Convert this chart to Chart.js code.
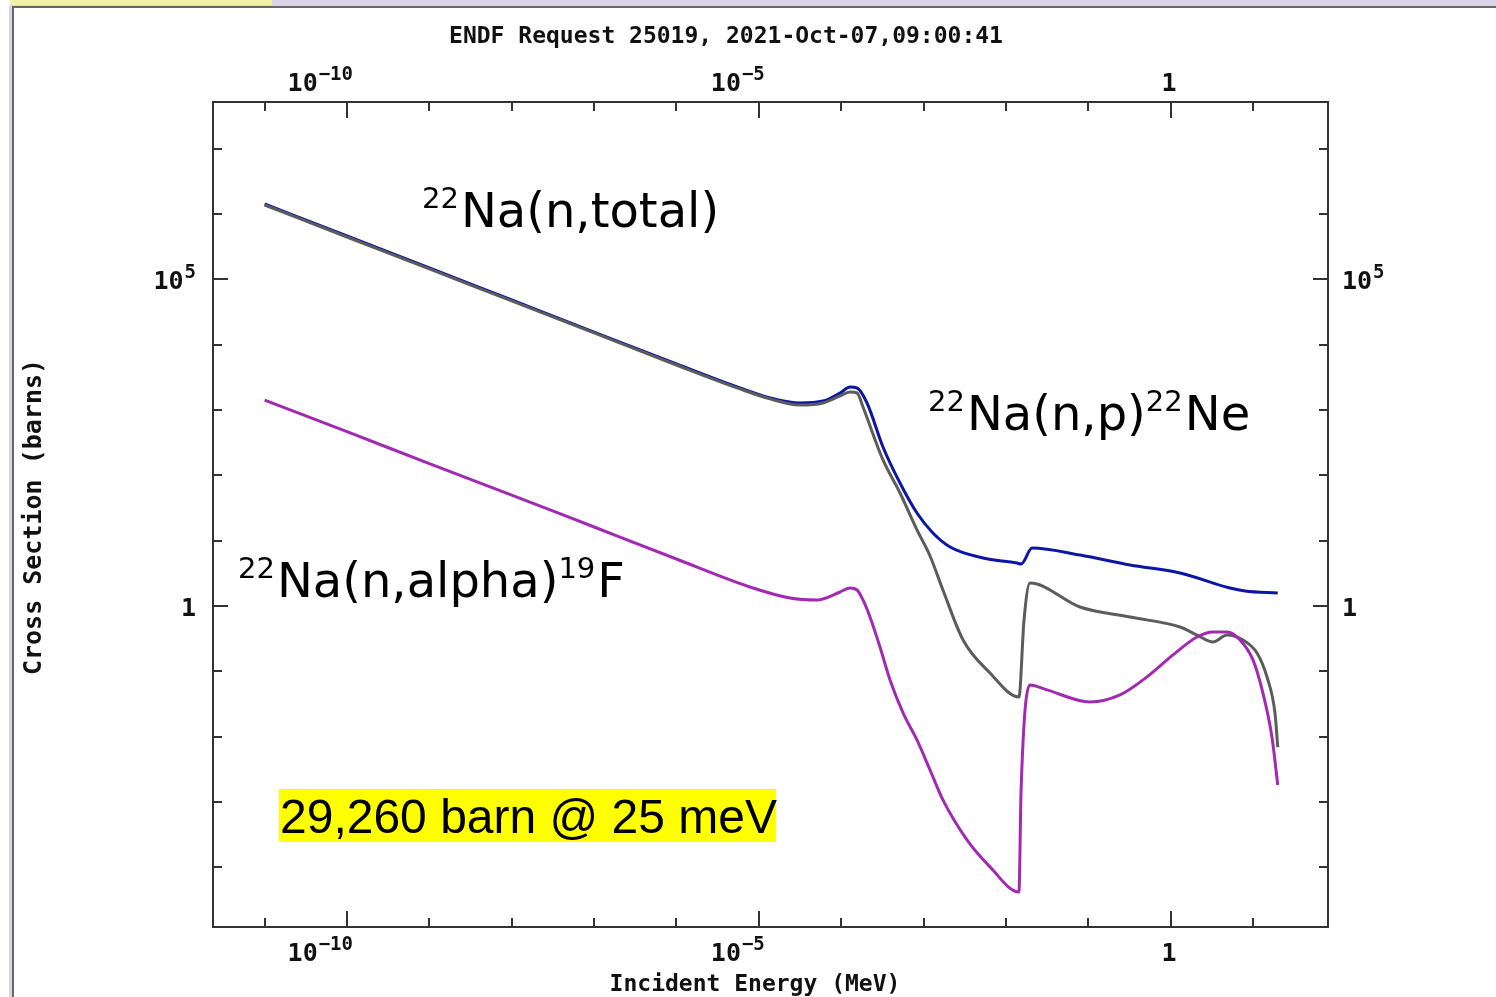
<!DOCTYPE html>
<html>
<head>
<meta charset="utf-8">
<script src="https://cdn.jsdelivr.net/npm/chart.js@4.4.1/dist/chart.umd.min.js"></script>
<style>
  body { margin: 0; background: #fff; overflow: hidden; }
  #wrap { position: absolute; left: 0; top: 0; width: 1496px; height: 997px; }
  #chartCanvas { position: absolute; left: 0; top: 0; }
  .strip { position: absolute; }
</style>
</head>
<body>
<div id="wrap">
  <canvas id="chartCanvas" width="1496" height="997"></canvas>
  <div class="strip" style="left:10px;top:0;width:1486px;height:6px;background:#d9d4e6"></div>
  <div class="strip" style="left:10px;top:0;width:262px;height:5px;background:#f4f0a6"></div>
  <div class="strip" style="left:12px;top:6px;width:1484px;height:2px;background:#666"></div>
  <div class="strip" style="left:9px;top:6px;width:3px;height:991px;background:#d9d4e6"></div>
  <div class="strip" style="left:12px;top:6px;width:2px;height:991px;background:#666"></div>
</div>
<script>
// incident energy (MeV) and cross sections (barns)
const energyTotal = [1e-11, 1e-10, 1e-9, 1e-8, 1e-7, 1e-6, 5.9e-6, 1.37e-5, 3.16e-5, 6.02e-5,
  9.69e-5, 1.28e-4, 1.56e-4, 2.06e-4, 3.22e-4, 5.18e-4, 8.33e-4, 1.3e-3, 2.1e-3, 5.28e-3,
  1.36e-2, 1.53e-2, 2.08e-2, 7.94e-2, 0.322, 1.3, 5.26, 8.0, 20];
const sigmaTotal = [1.42e6, 4.6e5, 1.49e5, 4.82e4, 1.56e4, 5.06e3, 2.17e3, 1.53e3, 1.28e3, 1.37e3,
  1.82e3, 2.24e3, 2.17e3, 1.28e3, 272, 76.4, 26.5, 13.1, 8.01, 5.44,
  4.56, 4.4, 7.72, 6.04, 4.25, 3.21, 1.89, 1.7, 1.58];

const energyNP = [1e-11, 1e-10, 1e-9, 1e-8, 1e-7, 1e-6, 5.9e-6, 1.37e-5, 3.16e-5, 6.02e-5,
  9.69e-5, 1.28e-4, 1.56e-4, 1.84e-4, 3.22e-4, 5.18e-4, 8.33e-4, 1.2e-3, 1.72e-3, 3.02e-3,
  6.41e-3, 1.44e-2, 1.66e-2, 1.96e-2, 7.94e-2, 0.322, 1.3, 2.09, 3.27, 4.84,
  7.57, 11.2, 14.8, 18.5, 20];
const sigmaNP = [1.37e6, 4.44e5, 1.44e5, 4.66e4, 1.51e4, 4.88e3, 2.1e3, 1.48e3, 1.19e3, 1.28e3,
  1.64e3, 1.88e3, 1.82e3, 1.11e3, 172, 53.7, 14.6, 5.84, 1.76, 0.303,
  0.0946, 0.0406, 0.612, 2.25, 0.966, 0.679, 0.478, 0.36, 0.282, 0.36,
  0.303, 0.191, 0.082, 0.0231, 0.00697];

const energyAlpha = [1e-11, 1e-10, 1e-9, 1e-8, 1e-7, 1e-6, 7.8e-6, 2.39e-5, 5.09e-5, 9.69e-5,
  1.28e-4, 1.56e-4, 1.84e-4, 2.24e-4, 2.96e-4, 3.92e-4, 5.64e-4, 8.33e-4, 1.2e-3, 1.72e-3,
  3.37e-3, 6.41e-3, 1.44e-2, 1.53e-2, 1.96e-2, 3.16e-2, 0.105, 0.243, 0.517, 1.07,
  2.09, 3.27, 4.84, 6.96, 10, 13.2, 17, 20];
const sigmaAlpha = [1420, 467, 151, 50, 16.2, 5.25, 1.96, 1.33, 1.24, 1.64,
  1.89, 1.76, 1.24, 0.681, 0.236, 0.074, 0.0232, 8.93e-3, 3.1e-3, 1.08e-3,
  2.64e-4, 1.02e-4, 4.21e-5, 1.54e-3, 0.0622, 0.0521, 0.0341, 0.0437, 0.0824, 0.179,
  0.336, 0.401, 0.401, 0.303, 0.15, 0.0468, 9.93e-3, 1.83e-3];

const xTickExps = [-11, -10, -9, -8, -7, -6, -5, -4, -3, -2, -1, 0, 1];
const xLabelExps = [-10, -5, 0];
const yTickExps = [-4, -3, -2, -1, 0, 1, 2, 3, 4, 5, 6, 7];
const yLabelExps = [0, 5];

const X_MIN = Math.pow(10, -11.627), X_MAX = Math.pow(10, 1.911);
const Y_MIN = Math.pow(10, -4.911), Y_MAX = Math.pow(10, 7.713);

const pts = (xs, ys) => xs.map((x, i) => ({ x: x, y: ys[i] }));

const monoBase = 'bold 25px "DejaVu Sans Mono"';
const monoSup = 'bold 19px "DejaVu Sans Mono"';

function powLabel(ctx, exp, x, y, align) {
    const base = exp === 0 ? '1' : '10';
    const sup = exp === 0 || exp === 1 ? '' : String(exp).replace('-', '\u2212');
    ctx.font = monoBase;
    const wb = ctx.measureText(base).width;
    ctx.font = monoSup;
    const ws = sup ? ctx.measureText(sup).width + 1 : 0;
    let x0 = align === 'right' ? x - wb - ws : x;
    ctx.textAlign = 'left';
    ctx.textBaseline = 'alphabetic';
    ctx.font = monoBase;
    ctx.fillText(base, x0, y);
    if (sup) {
        ctx.font = monoSup;
        ctx.fillText(sup, x0 + wb + 1, y - 11);
    }
}

function noteText(ctx, parts, x, y) {
    let cx = x;
    ctx.textAlign = 'left';
    ctx.textBaseline = 'alphabetic';
    parts.forEach(p => {
        ctx.font = p.sup ? '29px "DejaVu Sans"' : '48px "DejaVu Sans"';
        ctx.fillText(p.t, cx, p.sup ? y - 19 : y);
        cx += ctx.measureText(p.t).width + (p.sup ? 2 : 0);
    });
}

const framePlugin = {
    id: 'endfFrame',
    afterDraw(chart) {
        const ctx = chart.ctx;
        const a = chart.chartArea;
        const xs = chart.scales.x, ys = chart.scales.y;
        ctx.save();
        ctx.strokeStyle = '#333';
        ctx.lineWidth = 2;
        ctx.strokeRect(a.left, a.top, a.right - a.left, a.bottom - a.top);

        ctx.beginPath();
        xTickExps.forEach(e => {
            const px = Math.round(xs.getPixelForValue(Math.pow(10, e)));
            const len = xLabelExps.includes(e) ? 16 : 9;
            ctx.moveTo(px, a.bottom); ctx.lineTo(px, a.bottom - len);
            ctx.moveTo(px, a.top); ctx.lineTo(px, a.top + len);
        });
        yTickExps.forEach(e => {
            const py = Math.round(ys.getPixelForValue(Math.pow(10, e)));
            const len = yLabelExps.includes(e) ? 15 : 9;
            ctx.moveTo(a.left, py); ctx.lineTo(a.left + len, py);
            ctx.moveTo(a.right, py); ctx.lineTo(a.right - len, py);
        });
        ctx.stroke();

        ctx.fillStyle = '#111';
        xLabelExps.forEach(e => {
            const px = xs.getPixelForValue(Math.pow(10, e));
            powLabel(ctx, e, px + 6, 91, 'right');
            powLabel(ctx, e, px + 6, 961, 'right');
        });
        yLabelExps.forEach(e => {
            const py = ys.getPixelForValue(Math.pow(10, e));
            powLabel(ctx, e, a.left - 17, py + 10, 'right');
            powLabel(ctx, e, a.right + 14, py + 10, 'left');
        });

        ctx.font = 'bold 23px "DejaVu Sans Mono"';
        ctx.textAlign = 'center';
        ctx.fillText('ENDF Request 25019, 2021-Oct-07,09:00:41', 726, 43);
        ctx.fillText('Incident Energy (MeV)', 755, 991);
        ctx.save();
        ctx.translate(41, 517);
        ctx.rotate(-Math.PI / 2);
        ctx.font = 'bold 25px "DejaVu Sans Mono"';
        ctx.fillText('Cross Section (barns)', 0, 0);
        ctx.restore();

        ctx.fillStyle = '#000';
        noteText(ctx, [{ t: '22', sup: true }, { t: 'Na(n,total)' }], 422, 227);
        noteText(ctx, [{ t: '22', sup: true }, { t: 'Na(n,p)' }, { t: '22', sup: true }, { t: 'Ne' }], 928, 430);
        noteText(ctx, [{ t: '22', sup: true }, { t: 'Na(n,alpha)' }, { t: '19', sup: true }, { t: 'F' }], 238, 597);

        ctx.fillStyle = '#ffff00';
        ctx.fillRect(279, 789, 497, 53);
        ctx.fillStyle = '#000';
        ctx.font = '48px "Liberation Sans"';
        ctx.textAlign = 'left';
        ctx.fillText('29,260 barn @ 25 meV', 280, 833);
        ctx.restore();
    }
};

const fixRange = (lo, hi) => s => { s.min = lo; s.max = hi; };

const chart = new Chart(document.getElementById('chartCanvas').getContext('2d'), {
    type: 'line',
    data: {
        datasets: [
            { label: '22Na(n,alpha)19F', data: pts(energyAlpha, sigmaAlpha), borderColor: '#a22ab2', borderWidth: 3 },
            { label: '22Na(n,p)22Ne', data: pts(energyNP, sigmaNP), borderColor: '#5c5c5c', borderWidth: 3 },
            { label: '22Na(n,total)', data: pts(energyTotal, sigmaTotal), borderColor: '#0c16a6', borderWidth: 3 }
        ]
    },
    plugins: [framePlugin],
    options: {
        responsive: false,
        animation: false,
        layout: { padding: { left: 213, right: 168, top: 102, bottom: 70 } },
        elements: { point: { radius: 0 }, line: { cubicInterpolationMode: 'monotone', fill: false } },
        plugins: { legend: { display: false }, tooltip: { enabled: false } },
        scales: {
            x: { type: 'logarithmic', display: false, min: X_MIN, max: X_MAX, afterBuildTicks: fixRange(X_MIN, X_MAX) },
            y: { type: 'logarithmic', display: false, min: Y_MIN, max: Y_MAX, afterBuildTicks: fixRange(Y_MIN, Y_MAX) }
        }
    }
});
</script>
</body>
</html>
